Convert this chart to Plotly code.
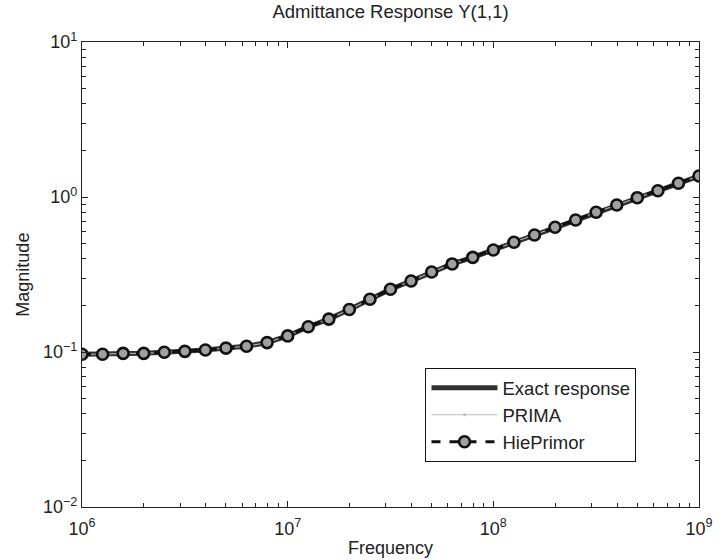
import plotly.graph_objects as go

# Frequencies (Hz), 10 points per decade from 1e6 to 1e9
freq = [1.000e6, 1.259e6, 1.585e6, 1.995e6, 2.512e6, 3.162e6, 3.981e6, 5.012e6, 6.310e6, 7.943e6,
        1.000e7, 1.259e7, 1.585e7, 1.995e7, 2.512e7, 3.162e7, 3.981e7, 5.012e7, 6.310e7, 7.943e7,
        1.000e8, 1.259e8, 1.585e8, 1.995e8, 2.512e8, 3.162e8, 3.981e8, 5.012e8, 6.310e8, 7.943e8,
        1.000e9]

# Magnitudes
exact = [0.0967, 0.0967, 0.0980, 0.0980, 0.0996, 0.101, 0.103, 0.106, 0.109, 0.115,
         0.127, 0.1455, 0.163, 0.188, 0.219, 0.254, 0.287, 0.328, 0.370, 0.408,
         0.455, 0.511, 0.569, 0.638, 0.711, 0.797, 0.888, 0.990, 1.098, 1.226,
         1.365]
prima = list(exact)
hieprimor = list(exact)

x_tickvals = [1e6, 1e7, 1e8, 1e9]
x_ticktext = ["10<sup>6</sup>", "10<sup>7</sup>", "10<sup>8</sup>", "10<sup>9</sup>"]
y_tickvals = [1e-2, 1e-1, 1e0, 1e1]
y_ticktext = ["10<sup>−2</sup>", "10<sup>−1</sup>", "10<sup>0</sup>", "10<sup>1</sup>"]

x_minor = [m * 10 ** e for e in (6, 7, 8) for m in range(2, 10)]
y_minor = [m * 10 ** e for e in (-2, -1, 0) for m in range(2, 10)]

FONT = "Liberation Sans, Arial, sans-serif"
TXT = "#222222"

fig = go.Figure()
fig.add_trace(go.Scatter(x=freq, y=exact, mode="lines", name="Exact response",
                         line=dict(color="#333333", width=5)))
fig.add_trace(go.Scatter(x=freq, y=prima, mode="lines+markers", name="PRIMA",
                         line=dict(color="#bbbbbb", width=1),
                         marker=dict(symbol="circle", size=3, color="#bbbbbb")))
fig.add_trace(go.Scatter(x=freq, y=hieprimor, mode="lines+markers", name="HiePrimor",
                         line=dict(color="#111111", width=3, dash="dash"),
                         marker=dict(symbol="circle", size=11, color="#a0a0a0",
                                     line=dict(color="#111111", width=2.6))))

axis_common = dict(type="log", showgrid=False, zeroline=False, showline=True,
                   linecolor="#222222", linewidth=1.2, mirror="ticks",
                   ticks="inside", ticklen=6, tickcolor="#222222", tickwidth=1,
                   tickfont=dict(family=FONT, size=18, color=TXT), tickmode="array")

fig.update_xaxes(**axis_common, range=[6, 9], tickvals=x_tickvals, ticktext=x_ticktext,
                 ticklabelstandoff=5,
                 minor=dict(tickmode="array", tickvals=x_minor, ticks="inside",
                            ticklen=4, tickcolor="#222222", showgrid=False))
fig.update_yaxes(**axis_common, range=[-2, 1], tickvals=y_tickvals, ticktext=y_ticktext,
                 minor=dict(tickmode="array", tickvals=y_minor, ticks="inside",
                            ticklen=4, tickcolor="#222222", showgrid=False))

fig.update_layout(
    width=725, height=560,
    margin=dict(l=82, r=14, t=42, b=53),
    paper_bgcolor="white", plot_bgcolor="white",
    font=dict(family=FONT, color=TXT),
    title=dict(text="Admittance Response Y(1,1)", x=0.5, xref="paper", xanchor="center",
               y=1 - 12 / 560, yref="container", yanchor="middle",
               font=dict(family=FONT, size=18.5, color=TXT)),
    legend=dict(x=0.5564, y=0.299, xanchor="left", yanchor="top",
                bgcolor="white", bordercolor="#111111", borderwidth=1.2,
                itemwidth=66,
                font=dict(family=FONT, size=18.5, color=TXT), tracegroupgap=0),
    annotations=[
        dict(text="Frequency", xref="paper", yref="paper", x=0.5, y=-(548 - 507) / 465,
             xanchor="center", yanchor="middle", showarrow=False,
             font=dict(family=FONT, size=18, color=TXT)),
        dict(text="Magnitude", xref="paper", yref="paper", x=-(82 - 21) / 629, y=0.5,
             xanchor="center", yanchor="middle", showarrow=False, textangle=-90,
             font=dict(family=FONT, size=18, color=TXT)),
    ],
)

fig.write_html("out.html")
